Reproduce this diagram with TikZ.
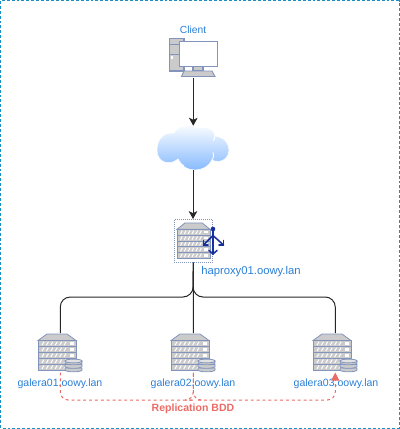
\documentclass[tikz,border=0pt]{standalone}
\usepackage{fontspec}
\setmainfont{Liberation Sans}
\usetikzlibrary{arrows.meta}
\definecolor{frameblue}{HTML}{1A8FC4}
\definecolor{textblue}{HTML}{2A7FD6}
\definecolor{iconline}{HTML}{8294BC}
\definecolor{icongray}{HTML}{CBCBCB}
\definecolor{replred}{HTML}{EA6B66}
\definecolor{anchorblue}{HTML}{1A2F9E}
\definecolor{cloudblue}{HTML}{7DB5FF}
\tikzset{
  x=0.75pt,y=-0.75pt,
  frame/.style={draw=frameblue,line width=0.75pt,dash pattern=on 2.2pt off 1.5pt},
  lbl/.style={text=textblue,font=\fontsize{7.9}{9}\selectfont,inner sep=0pt},
  iconbox/.style={anchor=north west,inner sep=0pt,minimum width=33pt,minimum height=29.25pt},
  link/.style={draw=black!85,line width=0.75pt},
  flow/.style={link,-{Stealth[length=6pt,width=6.5pt,inset=1.6pt]}},
  repl/.style={draw=replred,line width=0.75pt,dash pattern=on 2.2pt off 2.2pt,rounded corners=6pt},
  serverrack/.pic={
    \draw[iconline,fill=icongray,line width=0.6pt] (0,7.5) -- (9,1) -- (29,1) -- (38,7.5) -- cycle;
    \foreach \r in {0,1,2,3,4}{
      \draw[iconline,fill=icongray,line width=0.6pt] (0,7.5+5.9*\r) rectangle (38,13.4+5.9*\r);
      \foreach \s in {0,1,2,3,4,5}{
        \draw[white,line width=0.75pt] (4+4.4*\s,12.2+5.9*\r) -- (6+4.4*\s,8.8+5.9*\r);
      }
      \fill[white] (31.5,9.2+5.9*\r) rectangle (35.5,11.7+5.9*\r);
    }
  },
  dbstack/.pic={
    \foreach \d in {7.5,4,0.5}{
      \draw[iconline,fill=icongray,line width=0.6pt] (0,\d+1.5) -- (0,\d+3.5) arc[start angle=180,end angle=0,x radius=8.5,y radius=1.8] -- (17,\d+1.5) -- cycle;
    }
    \draw[iconline,fill=icongray!55,line width=0.6pt] (8.5,2) ellipse[x radius=8.5,y radius=1.9];
  },
}
\begin{document}
\begin{tikzpicture}
\useasboundingbox (0,0) rectangle (400,429);
\draw[frame] (0.8,0.8) rectangle (399.2,428.2);

% Client
\node[lbl,font=\fontsize{7.7}{9}\selectfont] (clientlabel) at (193,30) {Client};
\node[iconbox,minimum width=36pt,minimum height=29.25pt] (client) at (169,38) {};
\draw[iconline,fill=icongray,line width=0.8pt] (169.5,38.5) rectangle (184,71);
\draw[iconline,line width=0.6pt] (169.5,44) -- (179,44) (169.5,54) -- (179,54);
\fill[white] (171,56) rectangle (173,58.5);
\draw[iconline,fill=icongray,line width=0.8pt] (193,66) rectangle (203,71);
\draw[iconline,fill=white,line width=1.2pt] (179.5,41.5) rectangle (217.5,66.5);
\draw[iconline,fill=icongray,line width=0.7pt] (184,71) -- (212,71) -- (215,76.5) -- (181.5,76.5) -- cycle;

% Cloud
\node[inner sep=0pt,minimum width=54pt,minimum height=33pt] (cloud) at (193,148) {};
\path[top color=white,bottom color=cloudblue,draw=white,line width=0.4pt]
  (178,159) .. controls (170,166) and (157,163) .. (157,150)
  .. controls (157,139) and (164,132) .. (174,133)
  .. controls (177,126) and (190,123) .. (198,128)
  .. controls (207,126) and (215,130) .. (215,136)
  .. controls (224,137) and (229,143) .. (229,150)
  .. controls (229,159) and (220,164) .. (212,160)
  .. controls (206,173) and (184,174) .. (178,159) -- cycle;
\draw[white,line width=0.6pt] (178,159) .. controls (180,163) and (182,165) .. (184,166)
  (212,160) .. controls (214,157) and (214,155) .. (213,152)
  (215,136) .. controls (215,138) and (214,140) .. (213,141);

% haproxy
\node[iconbox,minimum width=28.5pt,minimum height=32.25pt,draw=iconline,densely dotted,line width=0.5pt] (ha) at (174,219) {};
\pic[xscale=0.87,yscale=0.98] at (177,222) {serverrack};
\node[inner sep=0pt,minimum width=15pt,minimum height=19.5pt] (lbicon) at (213,241.5) {};
\begin{scope}[anchorblue,line width=1.15pt,line cap=round]
  \fill (213,229) circle[radius=2.3];
  \draw (213,229) -- (213,254);
  \draw (209,250.5) -- (213,254) -- (217,250.5);
  \draw (213,235.5) -- (203.5,245);
  \draw (203.5,240.5) -- (203.5,245) -- (208,245);
  \draw (213,235.5) -- (223.5,245);
  \draw (223.5,240.5) -- (223.5,245) -- (219,245);
\end{scope}
\node[lbl,anchor=west,font=\fontsize{8.45}{10}\selectfont] (halabel) at (201,272) {haproxy01.oowy.lan};

% Galera servers
\node[iconbox] (gone) at (38,333) {};
\node[iconbox] (gtwo) at (171,333) {};
\node[iconbox] (gthree) at (313,333) {};
\foreach \n in {gone,gtwo,gthree}{
  \pic at (\n.north west) {serverrack};
  \pic[xshift=20.25pt,yshift=-19.5pt] at (\n.north west) {dbstack};
}
\node[lbl] (gonelabel) at (60,384) {galera01.oowy.lan};
\node[lbl] (gtwolabel) at (193,384) {galera02.oowy.lan};
\node[lbl] (gthreelabel) at (336,384) {galera03.oowy.lan};

% Flow
\draw[flow] (client.south) -- (client.south |- cloud.north);
\draw[flow] (cloud.south) -- (cloud.south |- ha.north);
\coordinate (bus) at (193,297);
\draw[link,rounded corners=7.5pt] (ha.south) -- (bus) -| (gone.north);
\draw[link,rounded corners=7.5pt] (ha.south) -- (bus) -| (gthree.north);
\draw[link] (ha.south) -- (gtwo.north);

% Replication
\draw[repl] (gone.south) |- (193,400);
\draw[repl] (193,400) -| (gtwo.south);
\draw[repl] (gtwo.south) |- (198,400);
\draw[repl,-{Triangle[length=6pt,width=6pt,fill=replred]}] (198,400) -| (gthree.south);
\node[text=replred,inner sep=0pt,font=\bfseries\fontsize{7.9}{9}\selectfont] (repllabel) at (193,409) {Replication BDD};
\end{tikzpicture}
\end{document}
